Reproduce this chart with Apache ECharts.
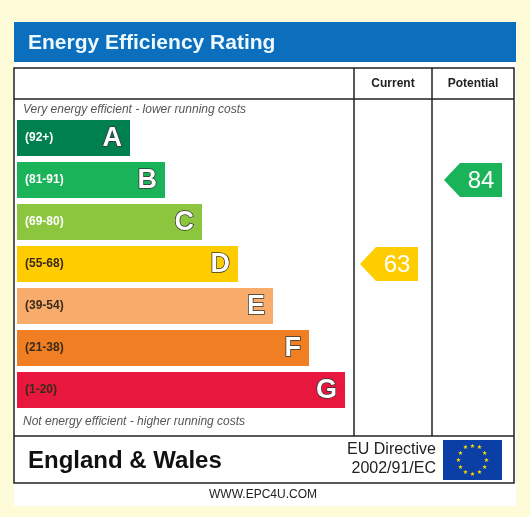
<!DOCTYPE html>
<html>
<head>
<meta charset="utf-8">
<script src="https://cdn.jsdelivr.net/npm/echarts@6/dist/echarts.min.js"></script>
<style>
  html, body { margin: 0; padding: 0; background: #fdfbd8; }
  #chart { width: 530px; height: 517px; }
</style>
</head>
<body>
<div id="chart"></div>
<script>
// rating bands, top (best) to bottom
const bands = ['A', 'B', 'C', 'D', 'E', 'F', 'G'];
const ranges = ['(92+)', '(81-91)', '(69-80)', '(55-68)', '(39-54)', '(21-38)', '(1-20)'];
const barLength = [113, 148, 185, 221, 256, 292, 328];
const bandColors = ['#00804f', '#1bb35a', '#8cc63f', '#ffcc00', '#f7ac6b', '#ef7f22', '#e8173d'];
// ratings: [column start, band index, value]
const currentRating = 63;
const potentialRating = 84;
const ratingCols = [343, 427];

function bandOf(v) {
  if (v >= 92) return 0;
  if (v >= 81) return 1;
  if (v >= 69) return 2;
  if (v >= 55) return 3;
  if (v >= 39) return 4;
  if (v >= 21) return 5;
  return 6;
}

const chart = echarts.init(document.getElementById('chart'));

function renderBar(params, api) {
  const i = api.value(0);
  const p0 = api.coord([0, i]);
  const p1 = api.coord([api.value(1), i]);
  const h = 36;
  const dark = i >= 3;
  return {
    type: 'group',
    children: [
      {type: 'rect', shape: {x: p0[0], y: p0[1] - h / 2, width: p1[0] - p0[0], height: h},
        style: {fill: bandColors[i]}},
      {type: 'text', style: {x: p0[0] + 8, y: p0[1], text: ranges[i], fill: dark ? '#3a2a1a' : '#fff',
        font: 'bold 12px Arial, "Liberation Sans"', verticalAlign: 'middle'}},
      {type: 'text', style: {x: p1[0] - 8, y: p0[1] + 1, text: bands[i], fill: '#fff', stroke: '#333', lineWidth: 1.5,
        font: 'bold 27px Arial, "Liberation Sans"', align: 'right', verticalAlign: 'middle'}}
    ]
  };
}

function renderArrow(params, api) {
  const x = api.value(0);
  const i = api.value(1);
  const v = api.value(2);
  const a = api.coord([x, i]);
  const b = api.coord([x + 58, i]);
  const h = 17;
  const tip = 16;
  return {
    type: 'group',
    children: [
      {type: 'polygon', shape: {points: [[a[0], a[1]], [a[0] + tip, a[1] - h], [b[0], b[1] - h], [b[0], b[1] + h], [a[0] + tip, a[1] + h]]},
        style: {fill: bandColors[i]}},
      {type: 'text', style: {x: (a[0] + tip + b[0]) / 2, y: a[1] + 1, text: String(v), fill: '#fff',
        font: '24px Arial, "Liberation Sans"', align: 'center', verticalAlign: 'middle'}}
    ]
  };
}

const lineStyle = {stroke: '#222', lineWidth: 1.5};

chart.setOption({
  backgroundColor: '#fdfbd8',
  animation: false,
  grid: {left: 17, right: 16, top: 117, height: 294},
  xAxis: {type: 'value', min: 0, max: 497, show: false},
  yAxis: {type: 'category', data: bands, inverse: true, show: false},
  graphic: [
    {type: 'rect', shape: {x: 14, y: 22, width: 502, height: 484}, style: {fill: '#fff'}, z: -10},
    {type: 'rect', shape: {x: 14, y: 22, width: 502, height: 40}, style: {fill: '#0b6fbd'}},
    {type: 'text', style: {x: 28, y: 43, text: 'Energy Efficiency Rating', fill: '#eef8ff',
      font: 'bold 21px Arial, "Liberation Sans"', verticalAlign: 'middle'}},
    {type: 'rect', shape: {x: 14, y: 68, width: 500, height: 415}, style: {fill: 'none', stroke: '#222', lineWidth: 1.5}},
    {type: 'line', shape: {x1: 14, y1: 99, x2: 514, y2: 99}, style: lineStyle},
    {type: 'line', shape: {x1: 14, y1: 436, x2: 514, y2: 436}, style: lineStyle},
    {type: 'line', shape: {x1: 354, y1: 68, x2: 354, y2: 436}, style: lineStyle},
    {type: 'line', shape: {x1: 432, y1: 68, x2: 432, y2: 436}, style: lineStyle},
    {type: 'text', style: {x: 393, y: 84, text: 'Current', fill: '#222', font: 'bold 12px Arial, "Liberation Sans"', align: 'center', verticalAlign: 'middle'}},
    {type: 'text', style: {x: 473, y: 84, text: 'Potential', fill: '#222', font: 'bold 12px Arial, "Liberation Sans"', align: 'center', verticalAlign: 'middle'}},
    {type: 'text', style: {x: 23, y: 110, text: 'Very energy efficient - lower running costs', fill: '#555', font: 'italic 12px Arial, "Liberation Sans"', verticalAlign: 'middle'}},
    {type: 'text', style: {x: 23, y: 422, text: 'Not energy efficient - higher running costs', fill: '#555', font: 'italic 12px Arial, "Liberation Sans"', verticalAlign: 'middle'}},
    {type: 'text', style: {x: 28, y: 461, text: 'England & Wales', fill: '#111', font: 'bold 24px Arial, "Liberation Sans"', verticalAlign: 'middle'}},
    {type: 'text', style: {x: 436, y: 450, text: 'EU Directive', fill: '#222', font: '16px Arial, "Liberation Sans"', align: 'right', verticalAlign: 'middle'}},
    {type: 'text', style: {x: 436, y: 469, text: '2002/91/EC', fill: '#222', font: '16px Arial, "Liberation Sans"', align: 'right', verticalAlign: 'middle'}},
    {type: 'rect', shape: {x: 443, y: 440, width: 59, height: 40}, style: {fill: '#0b3fa6'}},
    {type: 'group', children: Array.from({length: 12}, (_, k) => ({
      type: 'text', style: {x: 472.5 + 14 * Math.sin(k * Math.PI / 6), y: 460 - 14 * Math.cos(k * Math.PI / 6),
        text: '★', fill: '#ffdd00', font: '6px "DejaVu Sans"', align: 'center', verticalAlign: 'middle'}
    }))},
    {type: 'text', style: {x: 263, y: 495, text: 'WWW.EPC4U.COM', fill: '#222', font: '12px Arial, "Liberation Sans"', align: 'center', verticalAlign: 'middle'}}
  ],
  series: [
    {type: 'custom', renderItem: renderBar, data: bands.map((b, i) => [i, barLength[i]])},
    {type: 'custom', renderItem: renderArrow, z: 3, data: [
      [ratingCols[0], bandOf(currentRating), currentRating],
      [ratingCols[1], bandOf(potentialRating), potentialRating]
    ]}
  ]
});
</script>
</body>
</html>
